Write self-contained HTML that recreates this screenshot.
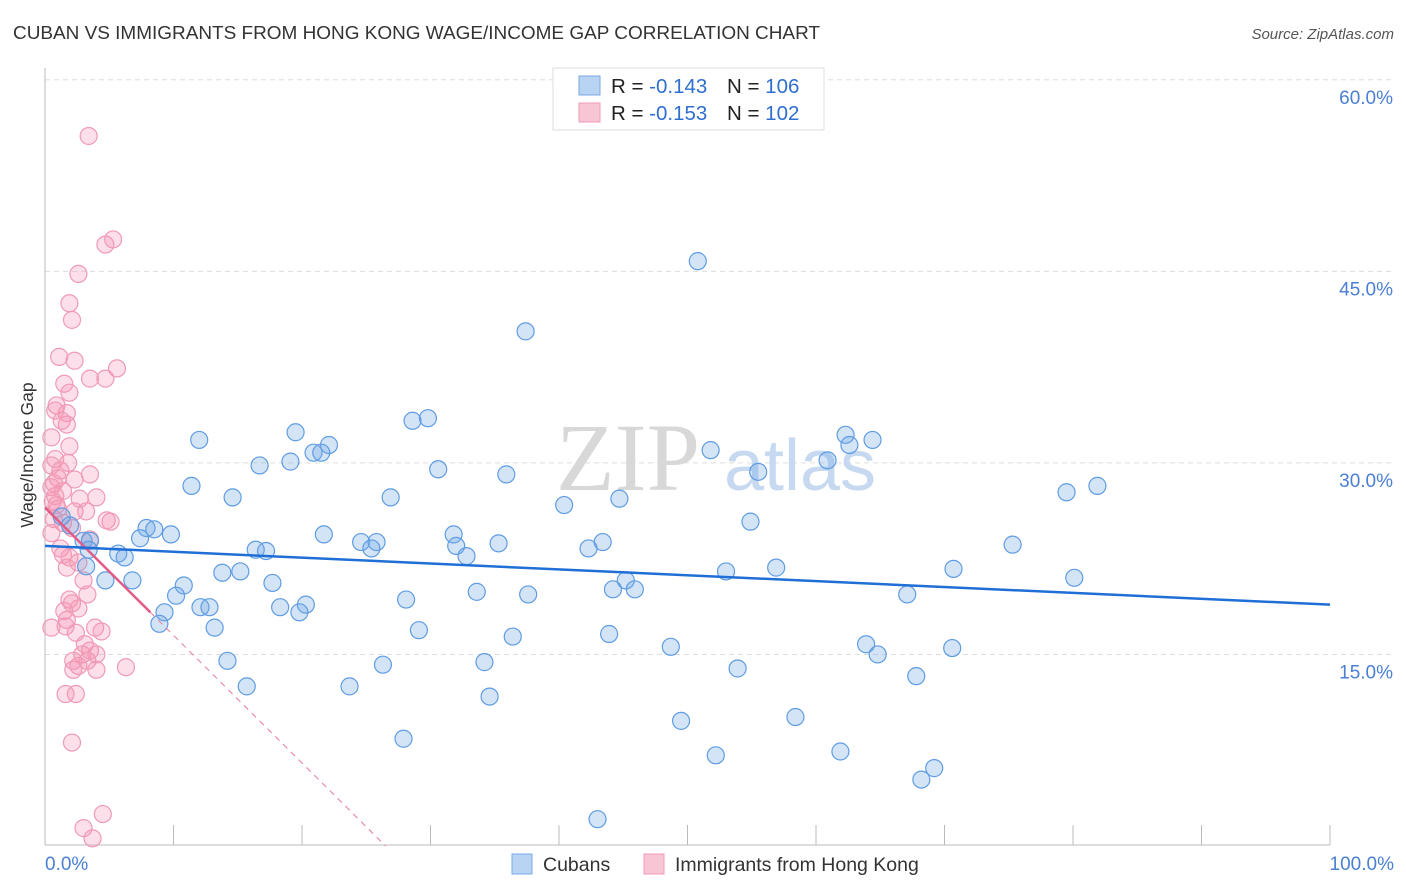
<!DOCTYPE html>
<html><head><meta charset="utf-8"><style>
body{margin:0;background:#fff;font-family:"Liberation Sans",sans-serif}
svg{display:block}
</style></head><body>
<svg id="chart" width="1406" height="892" xmlns="http://www.w3.org/2000/svg">
<text x="13" y="39" font-size="18.8" fill="#333" textLength="807" lengthAdjust="spacingAndGlyphs">CUBAN VS IMMIGRANTS FROM HONG KONG WAGE/INCOME GAP CORRELATION CHART</text>
<text x="1394" y="39" font-size="15" fill="#555" font-style="italic" text-anchor="end">Source: ZipAtlas.com</text>
<g id="grid"></g>
<g>
<text x="628" y="490" font-size="96" font-family="Liberation Serif,serif" fill="#d8d8d8" text-anchor="middle">ZIP</text>
<text x="800" y="490" font-size="72" fill="#c6d9f0" text-anchor="middle">atlas</text>
</g>
<line x1="45" y1="68" x2="45" y2="845" stroke="#bbb"/>
<line x1="45" y1="845" x2="1330" y2="845" stroke="#bbb"/>
<g id="ticks"></g>
<g id="pinkpts"></g>
<g id="bluepts"></g>
<g id="trends"></g>
<text x="33" y="455" font-size="17.5" fill="#333" text-anchor="middle" transform="rotate(-90 33 455)">Wage/Income Gap</text>
<text x="45" y="870" font-size="19" fill="#4a7fd4">0.0%</text>
<text x="1394" y="870" font-size="19" fill="#4a7fd4" text-anchor="end">100.0%</text>
<g>
<rect x="553" y="68" width="271" height="62" fill="#fff" stroke="#ddd"/>
<rect x="579" y="76" width="21" height="19" fill="#b9d3f3" stroke="#7aaae6"/>
<rect x="579" y="103" width="21" height="19" fill="#f8c5d4" stroke="#f09ab5"/>
<text x="611" y="93" font-size="20.5" fill="#222">R = <tspan fill="#2f6fd0">-0.143</tspan><tspan x="727">N = </tspan><tspan fill="#2f6fd0">106</tspan></text>
<text x="611" y="120" font-size="20.5" fill="#222">R = <tspan fill="#2f6fd0">-0.153</tspan><tspan x="727">N = </tspan><tspan fill="#2f6fd0">102</tspan></text>
</g>
<g>
<rect x="512" y="854" width="20" height="20" fill="#b9d3f3" stroke="#7aaae6"/>
<text x="543" y="871" font-size="19.5" fill="#333">Cubans</text>
<rect x="644" y="854" width="20" height="20" fill="#f8c5d4" stroke="#f09ab5"/>
<text x="675" y="871" font-size="19.5" fill="#333">Immigrants from Hong Kong</text>
</g>
</svg>
<script>
const yTicks=[15,30,45,60];
const yTickLabels=["15.0%","30.0%","45.0%","60.0%"];
const xTicks=[0,10,20,30,40,50,60,70,80,90,100];
const blueX=[50.8,37.4,29.8,28.6,19.5,12.0,22.1,20.9,21.5,19.1,16.7,30.6,35.9,51.8,62.3,62.6,64.4,60.9,55.5,79.5,81.9,11.4,14.6,26.9,40.4,44.7,54.9,7.9,8.5,9.8,7.4,21.7,31.8,32.0,24.6,25.8,25.4,35.3,43.4,42.3,75.3,16.4,17.2,5.7,6.2,32.8,13.8,15.2,53.0,56.9,70.7,80.1,4.7,6.8,17.7,10.8,45.2,44.2,45.9,28.1,33.6,37.6,10.2,67.1,12.1,12.8,18.3,20.3,19.8,9.3,8.9,13.2,29.1,36.4,43.9,48.7,63.9,64.8,70.6,14.2,26.3,34.2,53.9,67.8,15.7,23.7,34.6,49.5,58.4,27.9,52.2,61.9,69.2,68.2,43.0,1.3,1.95,3.0,3.5,3.4,3.2];
const blueY=[45.8,40.3,33.5,33.3,32.4,31.8,31.4,30.8,30.8,30.1,29.8,29.5,29.1,31.0,32.2,31.4,31.8,30.2,29.3,27.7,28.2,28.2,27.3,27.3,26.7,27.2,25.4,24.9,24.8,24.4,24.1,24.4,24.4,23.5,23.8,23.8,23.3,23.7,23.8,23.3,23.6,23.2,23.1,22.9,22.6,22.7,21.4,21.5,21.5,21.8,21.7,21.0,20.8,20.8,20.6,20.4,20.8,20.1,20.1,19.3,19.9,19.7,19.6,19.7,18.7,18.7,18.7,18.9,18.3,18.3,17.4,17.1,16.9,16.4,16.6,15.6,15.8,15.0,15.5,14.5,14.2,14.4,13.9,13.3,12.5,12.5,11.7,9.8,10.1,8.4,7.1,7.4,6.1,5.2,2.1,25.8,25.1,23.9,23.9,23.2,21.9];
const pinkX=[3.4,4.7,5.3,2.6,1.9,2.1,1.1,2.3,5.6,3.5,4.7,1.5,1.9,0.9,0.8,1.7,1.3,1.7,0.5,1.9,0.8,0.5,1.2,1.0,2.3,3.5,0.5,0.8,2.7,4.0,0.9,2.3,3.2,0.7,4.8,5.1,1.4,2.1,0.5,3.5,1.2,1.4,1.9,2.6,1.7,3.0,3.3,1.9,2.1,1.5,2.6,1.7,0.5,1.6,3.9,4.4,2.4,3.1,3.5,4.0,2.9,3.3,2.2,2.6,6.3,2.2,4.0,1.6,2.4,2.1,4.5,3.0,3.7,0.6,1.0,1.4,0.7,1.8];
const pinkY=[55.6,47.1,47.5,44.8,42.5,41.2,38.3,38.0,37.4,36.6,36.6,36.2,35.5,34.5,34.1,33.9,33.3,33.0,32.0,31.3,30.3,29.8,29.4,28.8,28.7,29.1,28.1,27.4,27.2,27.3,26.7,26.2,26.2,25.6,25.5,25.4,25.3,24.9,24.5,24.0,23.3,22.8,22.6,22.2,21.8,20.8,19.7,19.3,19.0,18.4,18.6,17.7,17.1,17.2,17.1,16.8,16.7,15.8,15.3,15.0,15.0,14.5,14.5,14.1,14.0,13.8,13.8,11.9,11.9,8.1,2.5,1.4,0.6,27.0,26.4,27.8,28.4,30.0];
const blueTrend=[23.5,18.9];
const pinkTrend=[26.5,18.3,0];
const pinkTrendX=[0,8.2,26.5];
const NS="http://www.w3.org/2000/svg";
const sx=v=>45+v*12.85, sy=v=>846-v*12.77;
function mk(tag,attrs,parent){const e=document.createElementNS(NS,tag);for(const k in attrs)e.setAttribute(k,attrs[k]);parent.appendChild(e);return e;}
const grid=document.getElementById('grid');
yTicks.forEach((t,i)=>{
  const l=mk('line',{x1:45,x2:1394,y1:sy(t),y2:sy(t),stroke:'#ddd','stroke-dasharray':'5,4'},grid);
  
  
  const tx=mk('text',{x:1393,y:sy(t)+24,'font-size':19,fill:'#4a7fd4','text-anchor':'end'},grid);
  tx.textContent=yTickLabels[i];
  
  
});
const ticks=document.getElementById('ticks');
xTicks.forEach(t=>{
  const l=mk('line',{x1:sx(t),x2:sx(t),y1:825,y2:845,stroke:'#bbb'},ticks);
  
  
});
const pp=document.getElementById('pinkpts');
pinkX.forEach((x,i)=>{
  const c=mk('circle',{cx:sx(x),cy:sy(pinkY[i]),r:8.5,fill:'rgba(244,150,180,0.3)',stroke:'#f09ab5','stroke-width':1.2},pp);
  
  
});
const bp=document.getElementById('bluepts');
blueX.forEach((x,i)=>{
  const c=mk('circle',{cx:sx(x),cy:sy(blueY[i]),r:8.5,fill:'rgba(110,165,230,0.3)',stroke:'#5f9ce3','stroke-width':1.2},bp);
  
  
});
const tr=document.getElementById('trends');
const pd=mk('line',{x1:sx(pinkTrendX[1]),y1:sy(pinkTrend[1]),x2:sx(pinkTrendX[2]),y2:sy(pinkTrend[2]),stroke:'#e7799b','stroke-width':1,'stroke-dasharray':'6,5'},tr);


const ps=mk('line',{x1:sx(pinkTrendX[0]),y1:sy(pinkTrend[0]),x2:sx(pinkTrendX[1]),y2:sy(pinkTrend[1]),stroke:'#e25c86','stroke-width':2.5},tr);


const bl=mk('line',{x1:sx(0),y1:sy(blueTrend[0]),x2:sx(100),y2:sy(blueTrend[1]),stroke:'#1f6fd6','stroke-width':2.5},tr);


</script>
</body></html>
